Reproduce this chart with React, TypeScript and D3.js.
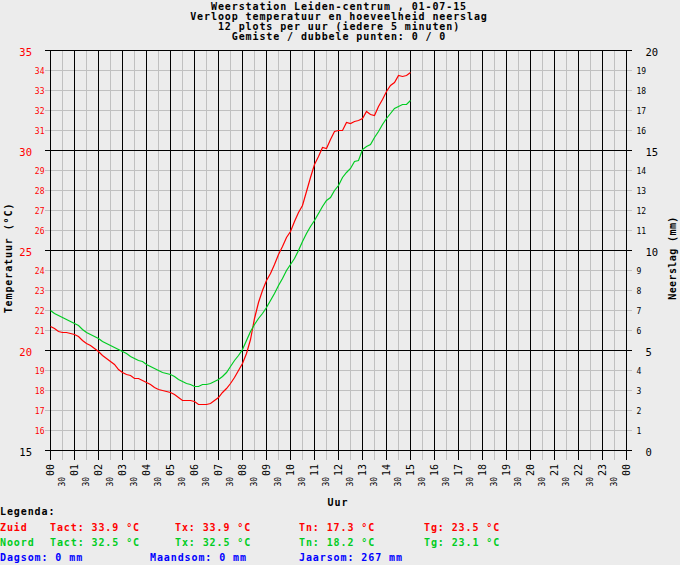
import React from "react";
import * as d3 from "d3";

// ---- data ----
const titleLines = [
  "Weerstation Leiden-centrum , 01-07-15",
  "Verloop temperatuur en hoeveelheid neerslag",
  "12 plots per uur (iedere 5 minuten)",
  "Gemiste / dubbele punten: 0 / 0",
];

// sample times in minutes after midnight (every 10 minutes, 00:00 - 15:00)
const sampleMinutes = d3.range(0, 15 * 60 + 1, 10);

const zuidTemp = [
  21.2, 21.1, 20.95, 20.9, 20.9, 20.85,
  20.8, 20.7, 20.5, 20.35, 20.25, 20.1,
  19.95, 19.75, 19.6, 19.45, 19.3, 19.05,
  18.9, 18.8, 18.75, 18.6, 18.6, 18.5,
  18.4, 18.3, 18.15, 18.05, 18.0, 17.95,
  17.9, 17.8, 17.65, 17.5, 17.5, 17.5,
  17.45, 17.3, 17.3, 17.3, 17.35, 17.5,
  17.65, 17.9, 18.1, 18.35, 18.65, 19.0,
  19.35, 19.85, 20.55, 21.6, 22.4, 23.0,
  23.5, 23.85, 24.3, 24.8, 25.2, 25.65,
  25.95, 26.45, 26.9, 27.25, 27.95, 28.65,
  29.3, 29.7, 30.15, 30.1, 30.55, 30.95,
  31.0, 31.0, 31.4, 31.35, 31.45, 31.5,
  31.6, 31.95, 31.8, 31.75, 32.2, 32.55,
  32.95, 33.25, 33.4, 33.75, 33.7, 33.75,
  33.9,
];

const noordTemp = [
  22.0, 21.85, 21.75, 21.65, 21.55, 21.45,
  21.35, 21.25, 21.05, 20.9, 20.8, 20.7,
  20.6, 20.45, 20.35, 20.25, 20.15, 20.05,
  19.95, 19.85, 19.7, 19.6, 19.5, 19.45,
  19.3, 19.2, 19.1, 19.0, 18.9, 18.85,
  18.8, 18.7, 18.55, 18.45, 18.35, 18.3,
  18.2, 18.2, 18.3, 18.3, 18.35, 18.45,
  18.55, 18.7, 18.9, 19.2, 19.5, 19.75,
  20.05, 20.5, 20.95, 21.3, 21.6, 21.85,
  22.15, 22.5, 22.85, 23.25, 23.6, 24.0,
  24.3, 24.6, 25.0, 25.45, 25.85, 26.2,
  26.5, 26.85, 27.2, 27.5, 27.65, 28.0,
  28.25, 28.65, 28.9, 29.1, 29.45, 29.5,
  30.05, 30.2, 30.3, 30.65, 30.95, 31.3,
  31.6, 31.85, 32.1, 32.2, 32.3, 32.3,
  32.5,
];

const hourLabels = [
  "00", "01", "02", "03", "04", "05", "06", "07", "08", "09", "10", "11",
  "12", "13", "14", "15", "16", "17", "18", "19", "20", "21", "22", "23", "00",
];
const tempTicks = d3.range(15, 36);
const rainTicks = d3.range(0, 21);

const legendZuid = ["Tact: 33.9 °C", "Tx: 33.9 °C", "Tn: 17.3 °C", "Tg: 23.5 °C"];
const legendNoord = ["Tact: 32.5 °C", "Tx: 32.5 °C", "Tn: 18.2 °C", "Tg: 23.1 °C"];
const legendRain = ["Dagsom: 0 mm", "Maandsom: 0 mm", "Jaarsom: 267 mm"];

// ---- styling ----
const BG = "#ECECEC";
const RED = "#FF0000";
const GREEN = "#00CC22";
const BLUE = "#0000FF";
const GRID = "#C0C0C0";
const MONO = "'DejaVu Sans Mono', 'Liberation Mono', monospace";

export default function App() {
  const W = 680;
  const H = 565;
  const x = d3.scaleLinear().domain([0, 24]).range([50.5, 626.5]);
  const y = d3.scaleLinear().domain([15, 35]).range([450.5, 50.5]);
  const yR = d3.scaleLinear().domain([0, 20]).range([450.5, 50.5]);

  const line = d3
    .line<number>()
    .x((_, i) => x(sampleMinutes[i] / 60))
    .y((d) => y(d));

  const halfHours = d3.range(0, 24).map((h) => h + 0.5);
  const hours = d3.range(0, 25);

  const legendCols = [50, 175, 299, 424];
  const rainCols = [0, 150, 299];

  const bigFont = { fontSize: 10, letterSpacing: 0.9, fontWeight: "bold" as const };

  return (
    <svg
      width={W}
      height={H}
      style={{ position: "absolute", left: 0, top: 0, display: "block" }}
      fontFamily={MONO}
    >
      <rect x={0} y={0} width={W} height={H} fill={BG} />

      {/* title */}
      {titleLines.map((t, i) => (
        <text
          key={"t" + i}
          x={339}
          y={9.5 + i * 10}
          textAnchor="middle"
          {...bigFont}
          fill="#000"
        >
          {t}
        </text>
      ))}

      {/* gray grid */}
      <g shapeRendering="crispEdges" stroke={GRID} strokeWidth={1}>
        {halfHours.map((h) => (
          <line key={"hh" + h} x1={x(h)} x2={x(h)} y1={50.5} y2={460} />
        ))}
        {tempTicks
          .filter((t) => t % 5 !== 0)
          .map((t) => (
            <line key={"ht" + t} x1={45} x2={632} y1={y(t)} y2={y(t)} />
          ))}
      </g>
      {/* black grid */}
      <g shapeRendering="crispEdges" stroke="#000" strokeWidth={1}>
        {hours.map((h) => (
          <line key={"vh" + h} x1={x(h)} x2={x(h)} y1={50.5} y2={460} />
        ))}
        {tempTicks
          .filter((t) => t % 5 === 0)
          .map((t) => (
            <line key={"bt" + t} x1={45} x2={632} y1={y(t)} y2={y(t)} />
          ))}
      </g>

      {/* left axis labels */}
      {tempTicks.map((t) =>
        t % 5 === 0 ? (
          <text
            key={"lt" + t}
            x={32}
            y={y(t) + 5}
            textAnchor="end"
            fontSize={10.5}
            fill={t === 15 ? "#000" : RED}
          >
            {t}
          </text>
        ) : (
          <text
            key={"lt" + t}
            x={44.5}
            y={y(t) + 3.5}
            textAnchor="end"
            fontSize={8}
            fill={RED}
          >
            {t}
          </text>
        )
      )}

      {/* right axis labels */}
      {rainTicks.map((r) =>
        r % 5 === 0 ? (
          <text key={"rt" + r} x={645.5} y={yR(r) + 5} fontSize={10.5} fill="#000">
            {r}
          </text>
        ) : (
          <text key={"rt" + r} x={636.5} y={yR(r) + 3.5} fontSize={8} fill="#000">
            {r}
          </text>
        )
      )}

      {/* x labels */}
      {hourLabels.map((l, i) => (
        <text
          key={"xl" + i}
          transform={`translate(${x(i)},476) rotate(-90)`}
          dy="0.36em"
          fontSize={10}
          fill="#000"
        >
          {l}
        </text>
      ))}
      {halfHours.map((h) => (
        <text
          key={"xh" + h}
          transform={`translate(${x(h)},486.5) rotate(-90)`}
          dy="0.36em"
          fontSize={8}
          fill="#000"
        >
          30
        </text>
      ))}

      {/* axis titles */}
      <text x={338} y={505.5} textAnchor="middle" {...bigFont}>
        Uur
      </text>
      <text
        transform="translate(12,258) rotate(-90)"
        textAnchor="middle"
        {...bigFont}
      >
        Temperatuur (°C)
      </text>
      <text
        transform="translate(676,258) rotate(-90)"
        textAnchor="middle"
        fontSize={10}
        letterSpacing={0.4}
        fontWeight="bold"
      >
        Neerslag (mm)
      </text>

      {/* data lines */}
      <path d={line(zuidTemp) || ""} fill="none" stroke={RED} strokeWidth={1.2} />
      <path d={line(noordTemp) || ""} fill="none" stroke={GREEN} strokeWidth={1.2} />

      {/* legend */}
      <text x={0} y={515} {...bigFont} fill="#000">
        Legenda:
      </text>
      <text x={0} y={530.5} {...bigFont} fill={RED}>
        Zuid
      </text>
      {legendZuid.map((s, i) => (
        <text key={"lz" + i} x={legendCols[i]} y={530.5} {...bigFont} fill={RED}>
          {s}
        </text>
      ))}
      <text x={0} y={545.5} {...bigFont} fill={GREEN}>
        Noord
      </text>
      {legendNoord.map((s, i) => (
        <text key={"ln" + i} x={legendCols[i]} y={545.5} {...bigFont} fill={GREEN}>
          {s}
        </text>
      ))}
      {legendRain.map((s, i) => (
        <text key={"lr" + i} x={rainCols[i]} y={560.5} {...bigFont} fill={BLUE}>
          {s}
        </text>
      ))}
    </svg>
  );
}
